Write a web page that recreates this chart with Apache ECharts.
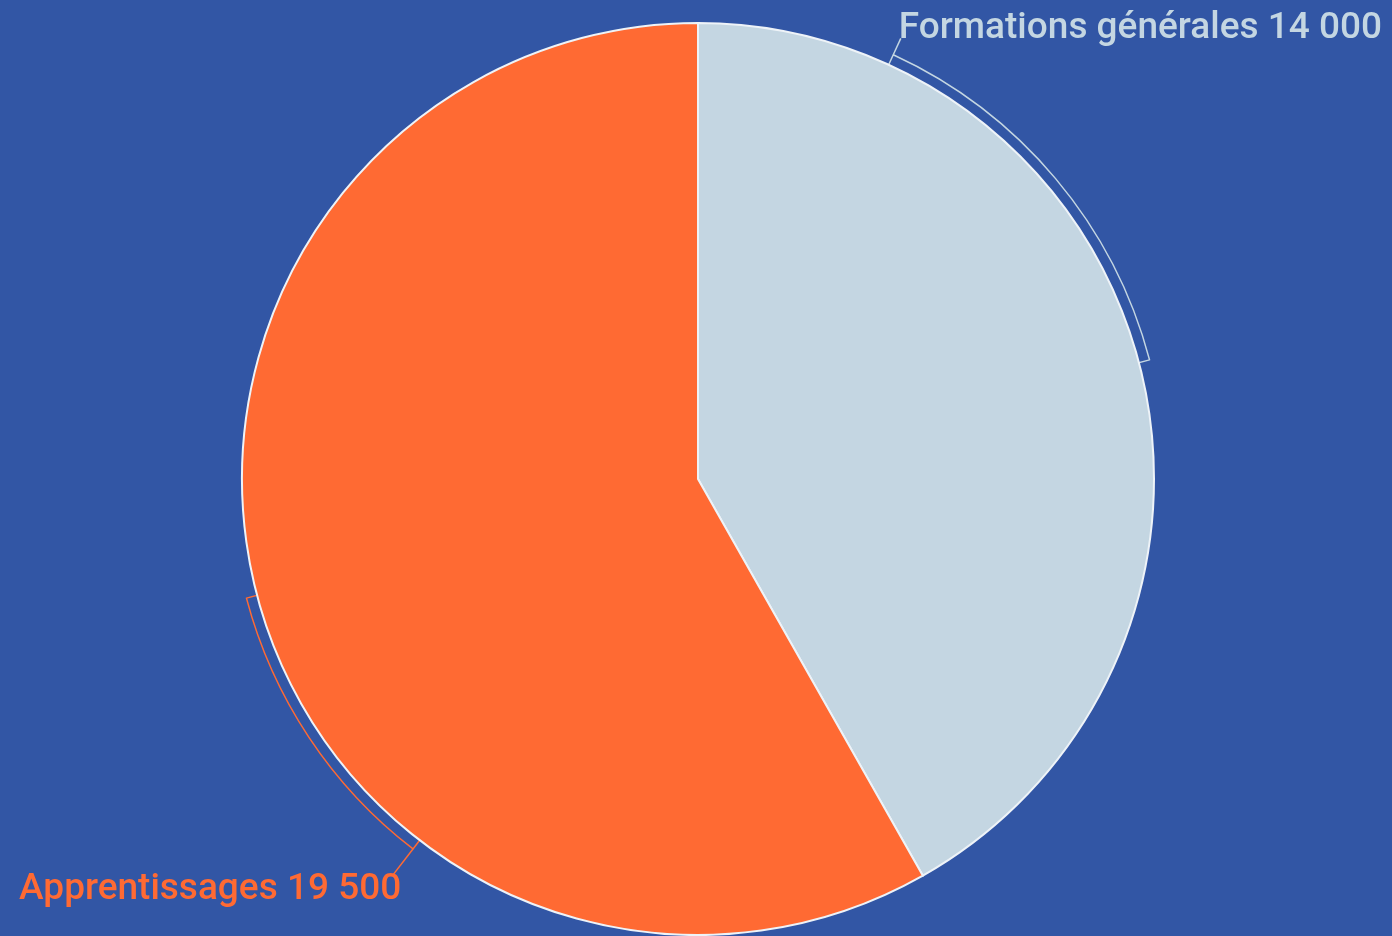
<!DOCTYPE html>
<html>
<head>
<meta charset="utf-8">
<title>Formations</title>
<script src="https://cdn.jsdelivr.net/npm/echarts@6/dist/echarts.min.js"></script>
<style>
  html, body { margin: 0; padding: 0; background: #3256a5; }
  #chart { width: 1392px; height: 936px; }
</style>
</head>
<body>
<div id="chart"></div>
<script>
const categories = ['Formations générales', 'Apprentissages']
const values = [14000, 19500]
const colors = ['#c4d6e2', '#ff6a33']
// where each label bracket starts, in value units along the circle
const bracketStart = [2300, 20250]

const chart = echarts.init(document.getElementById('chart'))

const fmt = (v) => String(v).replace(/\B(?=(\d{3})+(?!\d))/g, ' ')
const total = values.reduce((a, b) => a + b, 0)

// bracket ring: spacer, anchor (label), arc up to the slice middle
const ringData = []
let pos = 0
values.forEach((v, i) => {
  const sliceStart = values.slice(0, i).reduce((a, b) => a + b, 0)
  const mid = sliceStart + v / 2
  ringData.push({ value: bracketStart[i] - pos, itemStyle: { color: 'transparent', borderWidth: 0 } })
  ringData.push({
    value: 0,
    name: categories[i],
    itemStyle: { color: 'transparent', borderWidth: 0 },
    label: {
      show: true,
      formatter: categories[i] + ' ' + fmt(v),
      color: colors[i],
      distanceToLabelLine: i === 0 ? -2 : -9
    },
    labelLine: {
      show: true,
      length: i === 0 ? 18 : 34,
      length2: 0,
      lineStyle: { color: colors[i], width: 1.5 }
    }
  })
  ringData.push({
    value: mid - bracketStart[i],
    itemStyle: { color: 'transparent', borderColor: colors[i], borderWidth: 1.5 }
  })
  pos = mid
})
ringData.push({ value: total - pos, itemStyle: { color: 'transparent', borderWidth: 0 } })

// text sits above (first) / below (second) the end of its leader line
const labelDy = [-10, 14]

const option = {
  backgroundColor: '#3256a5',
  animation: false,
  series: [
    {
      type: 'pie',
      z: 1,
      silent: true,
      left: 0, right: 0, top: 0, bottom: 0,
      center: [698, 479],
      radius: [440, 467],
      startAngle: 90,
      clockwise: true,
      avoidLabelOverlap: false,
      label: {
        show: false,
        position: 'outside',
        fontFamily: 'Roboto',
        fontSize: 37,
        fontWeight: 500,
        overflow: 'none',
        bleedMargin: 0
      },
      labelLine: { show: false },
      labelLayout: (params) => {
        const i = categories.indexOf(ringData[params.dataIndex].name)
        if (i < 0) return {}
        return { dy: labelDy[i], labelLinePoints: params.labelLinePoints }
      },
      emphasis: { disabled: true },
      data: ringData
    },
    {
      type: 'pie',
      z: 2,
      silent: true,
      left: 0, right: 0, top: 0, bottom: 0,
      center: [698, 479],
      radius: 456,
      startAngle: 90,
      clockwise: true,
      label: { show: false },
      labelLine: { show: false },
      itemStyle: { borderColor: '#eef3f8', borderWidth: 2 },
      emphasis: { disabled: true },
      data: categories.map((name, i) => ({
        name,
        value: values[i],
        itemStyle: { color: colors[i] }
      }))
    }
  ]
}

chart.setOption(option)
</script>
</body>
</html>
